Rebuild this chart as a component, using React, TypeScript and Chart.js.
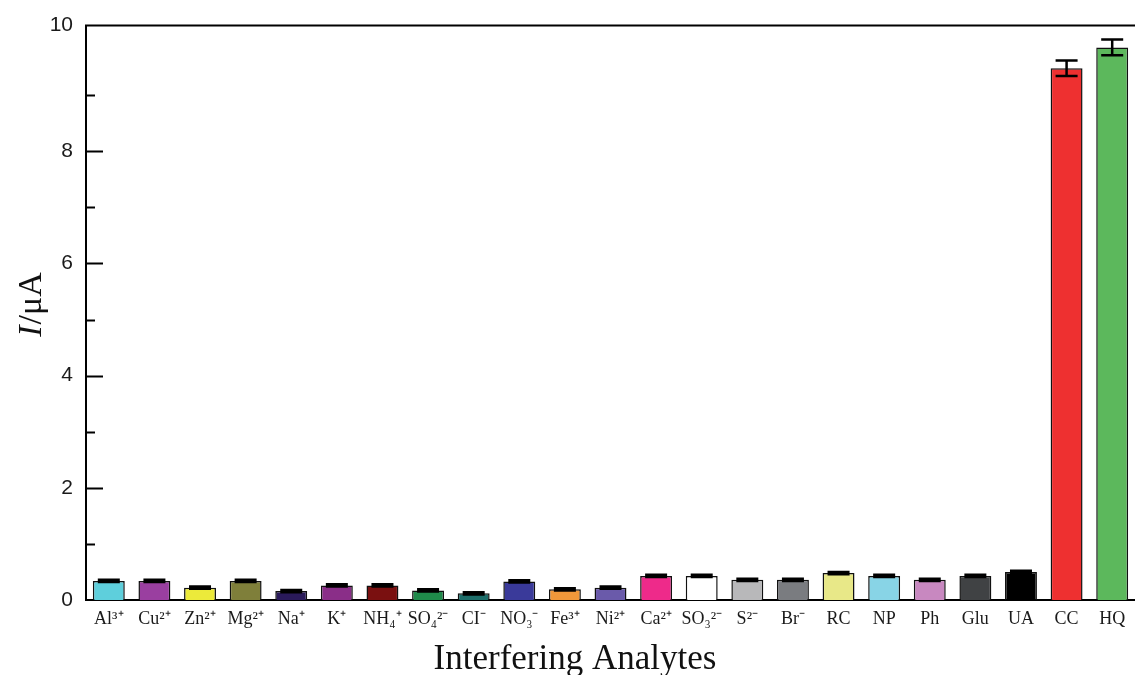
import React, { useEffect, useRef } from "react";
import { Chart, registerables } from "chart.js";

Chart.register(...registerables);

const categories = [
  "Al³⁺", "Cu²⁺", "Zn²⁺", "Mg²⁺", "Na⁺", "K⁺", "NH₄⁺", "SO₄²⁻", "CI⁻", "NO₃⁻", "Fe³⁺", "Ni²⁺",
  "Ca²⁺", "SO₃²⁻", "S²⁻", "Br⁻", "RC", "NP", "Ph", "Glu", "UA", "CC", "HQ",
];
const values = [
  0.34, 0.34, 0.22, 0.34, 0.16, 0.26, 0.26, 0.17, 0.12, 0.33, 0.19, 0.22,
  0.43, 0.43, 0.36, 0.36, 0.48, 0.43, 0.36, 0.43, 0.5, 9.48, 9.85,
];
const errors = [
  0.02, 0.02, 0.02, 0.02, 0.02, 0.02, 0.02, 0.02, 0.02, 0.02, 0.02, 0.02,
  0.02, 0.02, 0.02, 0.02, 0.02, 0.02, 0.02, 0.02, 0.02, 0.14, 0.14,
];
const barColors = [
  "#5ecfdc", "#9a3fa0", "#ecea3a", "#7f7f3a", "#2a1a5a", "#8a2e88", "#7a1010", "#1f8a4a",
  "#1e6e6a", "#3a3a9a", "#f0983a", "#6a5aaa", "#ee2a8a", "#ffffff", "#b8b8ba", "#7a7c80",
  "#e8e888", "#88d4e6", "#c888c0", "#404244", "#000000", "#ee3030", "#5cb85c",
];
const yMajorTicks = [2, 4, 6, 8];
const yMinorTicks = [1, 3, 5, 7, 9];
const yTickValues = [0, 2, 4, 6, 8, 10.24];
const yTickLabels = ["0", "2", "4", "6", "8", "10"];
const yAxisMax = 10.24;

export default function App() {
  const ref = useRef<HTMLCanvasElement>(null);

  useEffect(() => {
    const canvas = ref.current;
    if (!canvas) return;

    const decor = {
      id: "decor",
      afterDatasetsDraw(chart: any) {
        const { ctx, chartArea, scales } = chart;
        const x = scales.x;
        const y = scales.y;
        ctx.save();
        // error bars
        ctx.strokeStyle = "#000";
        ctx.lineWidth = 2.5;
        values.forEach((v, i) => {
          const cx = x.getPixelForValue(i);
          const yt = y.getPixelForValue(v + errors[i]);
          const yb = y.getPixelForValue(v - errors[i]);
          ctx.beginPath();
          ctx.moveTo(cx, yt);
          ctx.lineTo(cx, yb);
          ctx.moveTo(cx - 11, yt);
          ctx.lineTo(cx + 11, yt);
          ctx.moveTo(cx - 11, yb);
          ctx.lineTo(cx + 11, yb);
          ctx.stroke();
        });
        // y ticks inward
        ctx.lineWidth = 2;
        yMajorTicks.forEach((t) => {
          const py = Math.round(y.getPixelForValue(t)) + 0.5;
          ctx.beginPath();
          ctx.moveTo(chartArea.left, py);
          ctx.lineTo(chartArea.left + 17, py);
          ctx.stroke();
        });
        yMinorTicks.forEach((t) => {
          const py = Math.round(y.getPixelForValue(t)) + 0.5;
          ctx.beginPath();
          ctx.moveTo(chartArea.left, py);
          ctx.lineTo(chartArea.left + 9, py);
          ctx.stroke();
        });
        // top frame line
        ctx.beginPath();
        ctx.moveTo(chartArea.left - 1, chartArea.top);
        ctx.lineTo(chartArea.right, chartArea.top);
        ctx.stroke();
        // axis titles
        ctx.fillStyle = "#111";
        ctx.textBaseline = "alphabetic";
        ctx.textAlign = "center";
        ctx.font = "35px 'Liberation Serif', serif";
        ctx.fillText("Interfering Analytes", 575, 669);
        // y title with italic I
        ctx.save();
        ctx.translate(41, 305);
        ctx.rotate(-Math.PI / 2);
        ctx.textAlign = "left";
        const italic = "italic 34px 'Liberation Serif', serif";
        const normal = "34px 'Liberation Serif', serif";
        ctx.font = italic;
        const wI = ctx.measureText("I").width;
        ctx.font = normal;
        const wRest = ctx.measureText("/μA").width;
        const start = -(wI + wRest) / 2;
        ctx.font = italic;
        ctx.fillText("I", start, 0);
        ctx.font = normal;
        ctx.fillText("/μA", start + wI + 1, 0);
        ctx.restore();
        ctx.restore();
      },
    };

    const chart = new Chart(canvas, {
      type: "bar",
      data: {
        labels: categories,
        datasets: [
          {
            data: values,
            backgroundColor: barColors,
            borderColor: "#111",
            borderWidth: 1.5,
            categoryPercentage: 1,
            barPercentage: 0.7,
          },
        ],
      },
      options: {
        responsive: false,
        animation: false,
        layout: { padding: { top: 24, left: 0, right: 0, bottom: 0 } },
        plugins: {
          legend: { display: false },
          tooltip: { enabled: false },
        },
        scales: {
          x: {
            grid: { display: false, drawTicks: false },
            border: { display: true, color: "#000", width: 2 },
            ticks: {
              color: "#1a1a1a",
              font: { family: "'Liberation Serif', serif", size: 18 },
              padding: 8,
              maxRotation: 0,
              autoSkip: false,
            },
            afterFit: (scale: any) => {
              scale.height = 75;
            },
          },
          y: {
            min: 0,
            max: yAxisMax,
            grid: { display: false, drawTicks: false },
            border: { display: true, color: "#000", width: 2 },
            afterBuildTicks: (scale: any) => {
              scale.ticks = yTickValues.map((v) => ({ value: v }));
            },
            ticks: {
              color: "#1a1a1a",
              font: { family: "'Liberation Sans', Arial, sans-serif", size: 21 },
              padding: 13,
              callback: (v: any) => {
                const idx = yTickValues.indexOf(Number(v));
                return idx >= 0 ? yTickLabels[idx] : "";
              },
            },
            afterFit: (scale: any) => {
              scale.width = 86;
            },
          },
        },
      },
      plugins: [decor],
    });

    return () => chart.destroy();
  }, []);

  return (
    <div style={{ position: "absolute", left: 0, top: 0, width: 1135, height: 675, background: "#fff" }}>
      <canvas ref={ref} width={1135} height={675} />
    </div>
  );
}
